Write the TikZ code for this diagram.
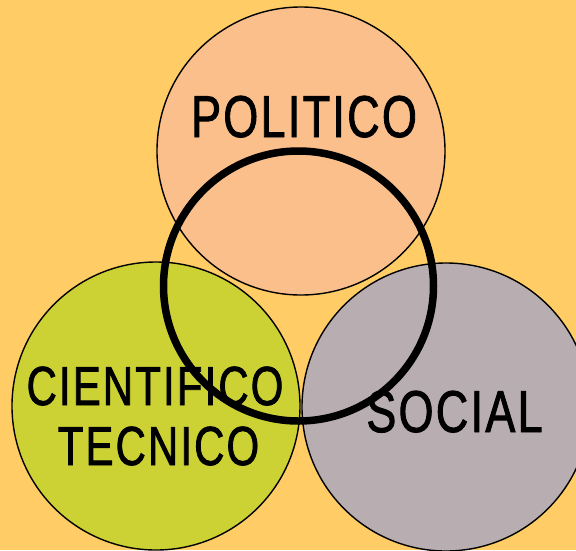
\documentclass[tikz,border=0pt]{standalone}
\usepackage{fontspec}
\setmainfont{Liberation Sans}[FakeStretch=0.76,FakeBold=1.5,LetterSpace=4]
\definecolor{bgc}{RGB}{255,204,102}
\definecolor{polc}{RGB}{251,191,140}
\definecolor{cienc}{RGB}{205,210,52}
\definecolor{socc}{RGB}{184,174,178}
\tikzset{
  bubble/.style={circle, draw=black, line width=1.4pt, inner sep=0pt, minimum size=288pt},
  ringstyle/.style={circle, draw=black, line width=7.5pt, inner sep=0pt, minimum size=270pt},
  bigtext/.style={anchor=base, inner sep=0pt, font=\fontsize{59}{59}\selectfont},
  midtext/.style={anchor=base, inner sep=0pt, font=\fontsize{55}{55}\selectfont}
}
\begin{document}
\begin{tikzpicture}[x=1pt,y=-1pt]
\useasboundingbox (0,0) rectangle (576,550);
\fill[bgc] (0,0) rectangle (576,550);
\clip (0,0) rectangle (576,550);
\node[bubble, fill=cienc] (cien) at (156,406) {};
\node[bubble, fill=socc] (soc) at (446,407) {};
\node[bubble, fill=polc] (pol) at (301,151) {};
\node[bigtext] (tpol) at (304,137) {POLITICO};
\node[midtext] (tcien) at (155,405) {CIENTIFICO};
\node[midtext] (ttec) at (158.5,465) {TECNICO};
\node[bigtext] (tsoc) at (454.5,432) {SOCIAL};
\node[ringstyle] (ring) at (298.5,286) {};
\end{tikzpicture}
\end{document}
